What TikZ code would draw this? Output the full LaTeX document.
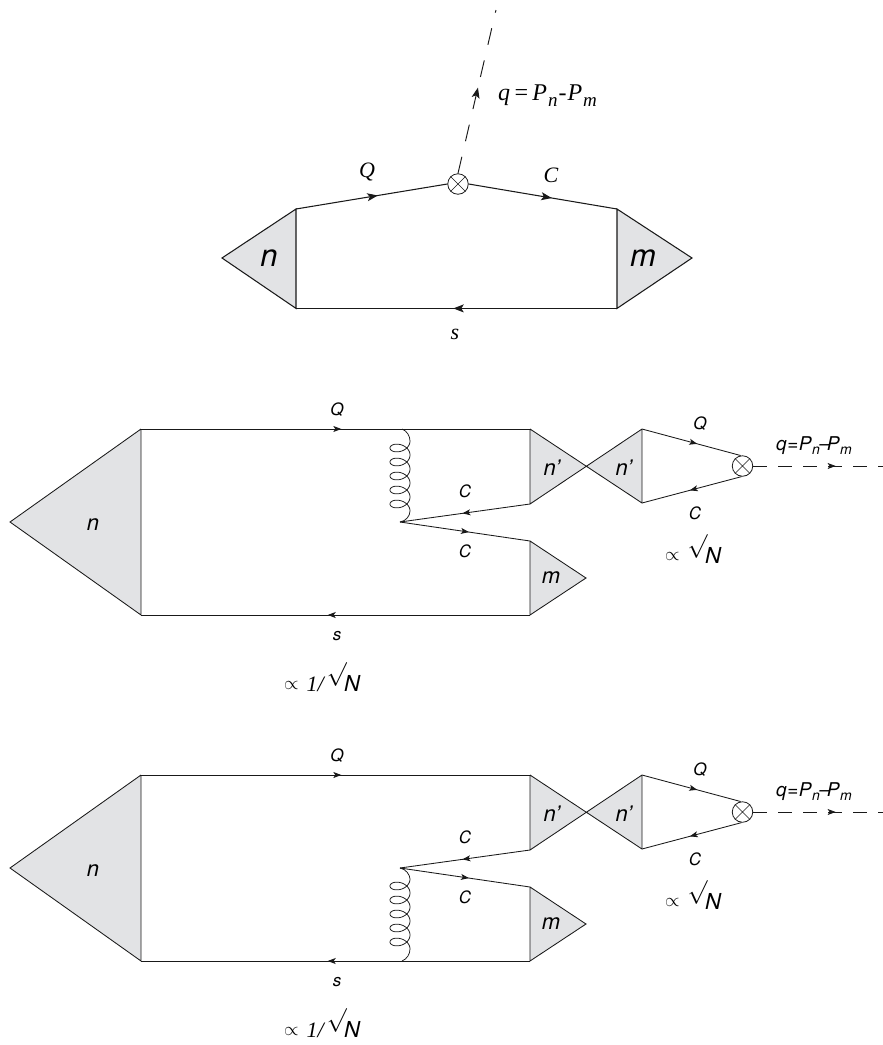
\documentclass[tikz,border=0pt]{standalone}
\usepackage{fontspec}
\usepackage{graphicx}
\usetikzlibrary{arrows.meta,decorations.markings}
\newfontfamily\heros{TeX Gyre Heros}
\newfontfamily\timesf{Liberation Serif}
\definecolor{blobgrey}{RGB}{226,227,229}
\tikzset{
  x=1pt,y=-1pt,
  fline/.style={line width=1.05pt,black!90},
  thinline/.style={line width=0.85pt,black!90},
  midtip/.style={postaction={decorate},decoration={markings,mark=at position #1 with {\arrow{Stealth[length=8pt,width=6pt,inset=2pt]}}}},
  bigtip/.style={postaction={decorate},decoration={markings,mark=at position #1 with {\arrow{Stealth[length=10.5pt,width=8pt,inset=2.5pt]}}}},
  dashline/.style={line width=0.8pt,black!90,dash pattern=on 14pt off 11pt},
  dashtop/.style={line width=0.95pt,black!90,dash pattern=on 17pt off 16pt},
  cross/.style={circle,draw=black!90,line width=0.8pt,minimum size=20.5pt,inner sep=0pt,fill=white},
  lab/.style={inner sep=0pt,font=\heros\itshape\fontsize{17}{17}\selectfont},
  labq/.style={inner sep=0pt,font=\heros\itshape\fontsize{19}{19}\selectfont},
  labmid/.style={inner sep=0pt,font=\heros\itshape\fontsize{22}{22}\selectfont},
  labbig/.style={inner sep=0pt,font=\heros\itshape\fontsize{31}{31}\selectfont},
  labserif/.style={inner sep=0pt,font=\timesf\itshape\fontsize{22}{22}\selectfont},
  labtopq/.style={inner sep=0pt,font=\timesf\itshape\fontsize{24}{24}\selectfont},
  labscale/.style={inner sep=0pt,anchor=base west,font=\heros\itshape\fontsize{22}{22}\selectfont},
  gluon/.style={line width=0.75pt,black!90},
}
\newcommand{\crossmark}[1]{\draw[line width=0.6pt,black!90] (#1.45) -- (#1.225) (#1.135) -- (#1.315);}
\newcommand{\lowsub}[2]{\raisebox{#1}{\fontsize{14}{14}\selectfont #2}}
\newcommand{\propmark}{\raisebox{2.5pt}{\scalebox{0.9}{$\propto$}}}
\newcommand{\surdmark}{\smash{\raisebox{11pt}{\scalebox{1.15}{$\surd$}}}}
\newcommand{\lowerdiagram}{%
  \coordinate (nA) at (10,522);
  \coordinate (nB) at (141,429);
  \coordinate (nC) at (141,615);
  \coordinate (pA) at (530,429);
  \coordinate (pB) at (530,504);
  \coordinate (pC) at (642,429);
  \coordinate (pD) at (642,503);
  \coordinate (mA) at (530,541);
  \coordinate (mB) at (530,615);
  \coordinate (mC) at (586,578);
  \coordinate (cr) at (586,466.5);
  \coordinate (far) at (883,466);
  \fill[blobgrey] (nA) -- (nB) -- (nC) -- cycle;
  \fill[blobgrey] (pA) -- (cr) -- (pB) -- cycle;
  \fill[blobgrey] (pC) -- (cr) -- (pD) -- cycle;
  \fill[blobgrey] (mA) -- (mC) -- (mB) -- cycle;
  \draw[thinline] (nB) -- (nA) -- (nC) (nB) -- (nC);
  \draw[thinline] (pA) -- (pD) (pB) -- (pC) (pA) -- (pB) (pC) -- (pD);
  \draw[thinline] (mA) -- (mC) -- (mB) (mA) -- (mB);
  \node[cross] (x) at (742.5,466) {};
  \crossmark{x}
  \draw[thinline,midtip=0.515] (nB) -- (pA);
  \draw[thinline,midtip=0.52] (mB) -- (nC);
  \draw[thinline,midtip=0.56] (pC) -- (x.100);
  \draw[thinline,midtip=0.52] (x.265) -- (pD);
  \draw[dashline,midtip=0.635] (x.east) -- (far);
  \node[lab] (lQ) at (337,410) {Q};
  \node[lab] (ls) at (337,636) {s};
  \node[lab] (lQr) at (700,424) {Q};
  \node[lab] (lCr) at (695,513) {C};
  \node[labq] (lq) at (814,446) {q\hspace{0.5pt}=\hspace{0.5pt}P\hspace{0.5pt}\lowsub{-4pt}{n}\hspace{-0.5pt}–\hspace{-3pt}P\hspace{0.5pt}\lowsub{-4pt}{m}};
  \node[labmid] (ln1) at (93,525) {n};
  \node[labmid] (ln2) at (552,468) {n’};
  \node[labmid] (ln3) at (624,468) {n’};
  \node[labmid] (lm) at (551,578) {m};
  \node[labscale] (lsq) at (665,563) {\propmark\hspace{8pt}\surdmark\hspace{-2.5pt}N};
  \node[labscale] (lsq2) at (284,691.5) {\propmark\hspace{8pt}{\timesf 1/}\hspace{3pt}\surdmark\hspace{-2.5pt}N};
}
\begin{document}
\begin{tikzpicture}
\useasboundingbox (0,0) rectangle (883,1045);
\fill[white] (0,0) rectangle (883,1045);
% top diagram
\coordinate (tnA) at (222,258);
\coordinate (tnB) at (296,209);
\coordinate (tnC) at (296,308.4);
\coordinate (tmA) at (617,209);
\coordinate (tmB) at (617,308.4);
\coordinate (tmC) at (692,258);
\coordinate (tq) at (496,10);
\fill[blobgrey] (tnA) -- (tnB) -- (tnC) -- cycle;
\fill[blobgrey] (tmA) -- (tmC) -- (tmB) -- cycle;
\draw[fline] (tnB) -- (tnA) -- (tnC) -- cycle;
\draw[fline] (tmA) -- (tmC) -- (tmB) -- cycle;
\node[cross] (tx) at (458,184) {};
\crossmark{tx}
\draw[fline,bigtip=0.54] (tnB) -- (tx.west);
\draw[fline,bigtip=0.56] (tx.east) -- (tmA);
\draw[fline,bigtip=0.51] (tmB) -- (tnC);
\draw[dashtop,bigtip=0.525] (tx.north) -- (tq);
\node[labserif] (tQ) at (367,172) {Q};
\node[labserif] (tC) at (551,175) {C};
\node[labserif] (ts) at (455,334) {s};
\node[labtopq,anchor=west] (tqq) at (498,96) {q\hspace{3pt}=\hspace{3pt}P\hspace{1pt}\raisebox{-6pt}{\fontsize{19}{19}\selectfont n}\hspace{1pt}-\hspace{1pt}P\hspace{1pt}\raisebox{-6pt}{\fontsize{19}{19}\selectfont m}};
\node[labbig] (tn) at (269,258) {n};
\node[labbig] (tm) at (643,258) {m};
% middle diagram
\begin{scope}[name prefix=b-]
\lowerdiagram
\coordinate (v) at (400,522);
\coordinate (gt) at (402,429);
\draw[thinline,midtip=0.52] (pB) -- (v);
\draw[thinline,midtip=0.53] (v) -- (mA);
\draw[gluon] (gt) .. controls (407,431) and (410,436) .. (410,441) -- plot[domain=0:1800,samples=260,smooth] ({400+10*cos(\x)},{441+\x/360*14+7*sin(\x)}) .. controls (410,516) and (406,521) .. (v);
\node[lab] (lC1) at (465,491) {C};
\node[lab] (lC2) at (465,551) {C};
\end{scope}
% bottom diagram
\begin{scope}[name prefix=c-,shift={(0,346)}]
\lowerdiagram
\coordinate (v) at (400,522);
\coordinate (gb) at (402,615);
\draw[thinline,midtip=0.52] (pB) -- (v);
\draw[thinline,midtip=0.53] (v) -- (mA);
\draw[gluon] (v) .. controls (406,523) and (410,529) .. (410,533) -- plot[domain=0:1800,samples=260,smooth] ({400+10*cos(\x)},{533+\x/360*14+7*sin(\x)}) .. controls (410,608) and (407,613) .. (gb);
\node[lab] (lC1) at (465,491) {C};
\node[lab] (lC2) at (465,551) {C};
\end{scope}
\end{tikzpicture}
\end{document}
